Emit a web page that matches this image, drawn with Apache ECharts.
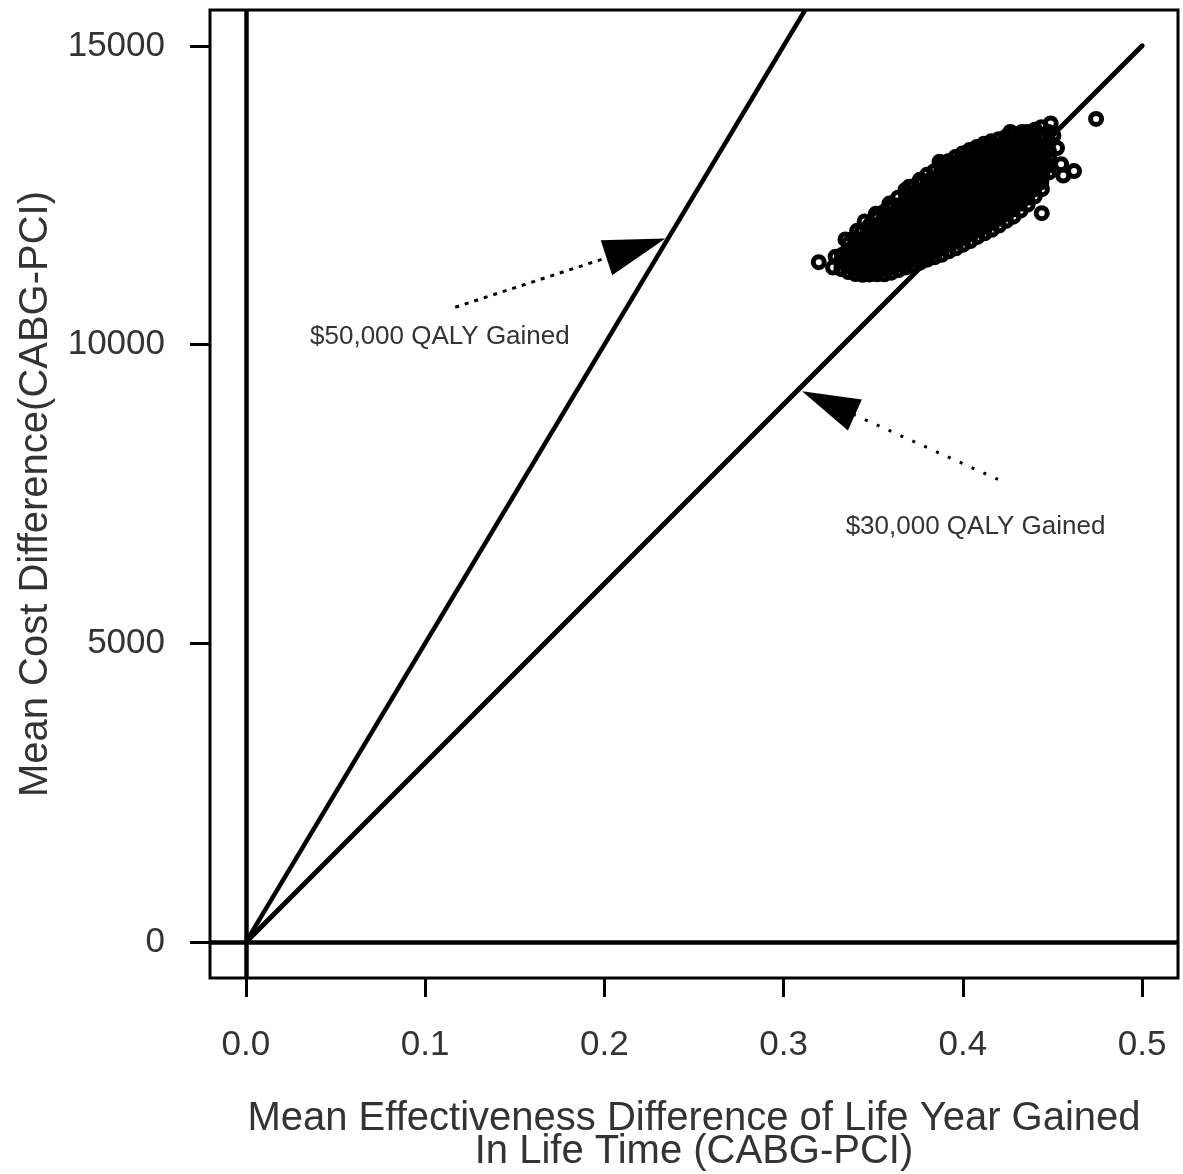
<!DOCTYPE html>
<html>
<head>
<meta charset="utf-8">
<title>ICER scatter</title>
<script src="https://cdn.jsdelivr.net/npm/echarts@6/dist/echarts.min.js"></script>
<style>
  html, body { margin: 0; padding: 0; background: #fff; }
  #chart { width: 1183px; height: 1174px; }
</style>
</head>
<body>
<div id="chart"></div>
<script>
// axis ticks
const xTicks = [0, 0.1, 0.2, 0.3, 0.4, 0.5]
const yTicks = [0, 5000, 10000, 15000]

// willingness-to-pay lines (effectiveness, cost)
const wtp30Line = [[0, 0], [0.5, 15000]]
const wtp50Line = [[0, 0], [0.312, 15600]]

// annotation arrows: [tail, head] and label anchors
const arrow50 = [[0.1168, 10626], [0.2176, 11615]]
const arrow30 = [[0.4196, 7743], [0.325, 9021]]
const label50 = [0.0358, 10123]
const label30 = [0.3346, 6955]

// bootstrap replicates (effectiveness diff, cost diff)
const icerPoints = [
  [0.3322, 11265], [0.3318, 11392], [0.3325, 11498],
  [0.3361, 11215], [0.3358, 11338], [0.3364, 11452], [0.3357, 11576], [0.3362, 11688],
  [0.3401, 11182], [0.3397, 11305], [0.3404, 11418], [0.3399, 11545], [0.3402, 11662], [0.3396, 11785],
  [0.3441, 11168], [0.3438, 11284], [0.3444, 11402], [0.3440, 11518], [0.3437, 11648], [0.3443, 11772], [0.3439, 11896],
  [0.3479, 11172], [0.3483, 11298], [0.3478, 11421], [0.3482, 11540], [0.3480, 11668], [0.3484, 11788], [0.3477, 11910], [0.3481, 12004],
  [0.3521, 11176], [0.3518, 11292], [0.3523, 11408], [0.3519, 11532], [0.3522, 11652], [0.3517, 11770], [0.3524, 11888], [0.3520, 12002], [0.3518, 12112],
  [0.3562, 11178], [0.3558, 11306], [0.3561, 11428], [0.3557, 11552], [0.3563, 11668], [0.3559, 11792], [0.3562, 11908], [0.3556, 12028], [0.3560, 12142], [0.3563, 12228],
  [0.3601, 11204], [0.3598, 11318], [0.3603, 11442], [0.3597, 11558], [0.3602, 11684], [0.3599, 11798], [0.3604, 11922], [0.3598, 12038], [0.3601, 12162], [0.3596, 12276], [0.3602, 12348],
  [0.3641, 11248], [0.3638, 11372], [0.3643, 11488], [0.3639, 11612], [0.3642, 11728], [0.3637, 11852], [0.3644, 11968], [0.3640, 12092], [0.3638, 12208], [0.3643, 12332], [0.3639, 12458],
  [0.3682, 11292], [0.3678, 11408], [0.3681, 11532], [0.3677, 11648], [0.3683, 11772], [0.3679, 11888], [0.3682, 12012], [0.3676, 12128], [0.3681, 12252], [0.3678, 12368], [0.3683, 12492], [0.3680, 12588],
  [0.3721, 11322], [0.3718, 11442], [0.3723, 11558], [0.3719, 11682], [0.3722, 11798], [0.3717, 11922], [0.3724, 12038], [0.3720, 12162], [0.3718, 12278], [0.3722, 12402], [0.3719, 12518], [0.3721, 12648],
  [0.3761, 11372], [0.3758, 11488], [0.3763, 11612], [0.3759, 11728], [0.3762, 11852], [0.3757, 11968], [0.3764, 12092], [0.3760, 12208], [0.3758, 12332], [0.3762, 12448], [0.3759, 12572], [0.3763, 12688], [0.3760, 12758],
  [0.3801, 11422], [0.3798, 11538], [0.3803, 11662], [0.3799, 11778], [0.3802, 11902], [0.3797, 12018], [0.3804, 12142], [0.3800, 12258], [0.3798, 12382], [0.3802, 12498], [0.3799, 12622], [0.3803, 12738], [0.3800, 12842],
  [0.3841, 11462], [0.3838, 11578], [0.3843, 11702], [0.3839, 11818], [0.3842, 11942], [0.3837, 12058], [0.3844, 12182], [0.3840, 12298], [0.3838, 12422], [0.3842, 12538], [0.3839, 12662], [0.3843, 12778], [0.3840, 12902],
  [0.3881, 11502], [0.3878, 11618], [0.3883, 11742], [0.3879, 11858], [0.3882, 11982], [0.3877, 12098], [0.3884, 12222], [0.3880, 12338], [0.3878, 12462], [0.3882, 12578], [0.3879, 12702], [0.3883, 12818], [0.3880, 12942], [0.3878, 13002],
  [0.3921, 11562], [0.3918, 11678], [0.3923, 11802], [0.3919, 11918], [0.3922, 12042], [0.3917, 12158], [0.3924, 12282], [0.3920, 12398], [0.3918, 12522], [0.3922, 12638], [0.3919, 12762], [0.3923, 12878], [0.3920, 12998], [0.3918, 13068],
  [0.3961, 11612], [0.3958, 11728], [0.3963, 11852], [0.3959, 11968], [0.3962, 12092], [0.3957, 12208], [0.3964, 12332], [0.3960, 12448], [0.3958, 12572], [0.3962, 12688], [0.3959, 12812], [0.3963, 12928], [0.3960, 13052], [0.3958, 13138],
  [0.4001, 11672], [0.3998, 11788], [0.4003, 11912], [0.3999, 12028], [0.4002, 12152], [0.3997, 12268], [0.4004, 12392], [0.4000, 12508], [0.3998, 12632], [0.4002, 12748], [0.3999, 12872], [0.4003, 12988], [0.4000, 13112], [0.3998, 13198],
  [0.4041, 11732], [0.4038, 11848], [0.4043, 11972], [0.4039, 12088], [0.4042, 12212], [0.4037, 12328], [0.4044, 12452], [0.4040, 12568], [0.4038, 12692], [0.4042, 12808], [0.4039, 12932], [0.4043, 13048], [0.4040, 13172], [0.4038, 13258],
  [0.4081, 11802], [0.4078, 11918], [0.4083, 12042], [0.4079, 12158], [0.4082, 12282], [0.4077, 12398], [0.4084, 12522], [0.4080, 12638], [0.4078, 12762], [0.4082, 12878], [0.4079, 13002], [0.4083, 13118], [0.4080, 13242], [0.4078, 13308],
  [0.4121, 11862], [0.4118, 11978], [0.4123, 12102], [0.4119, 12218], [0.4122, 12342], [0.4117, 12458], [0.4124, 12582], [0.4120, 12698], [0.4118, 12822], [0.4122, 12938], [0.4119, 13062], [0.4123, 13178], [0.4120, 13302], [0.4118, 13362],
  [0.4161, 11922], [0.4158, 12038], [0.4163, 12162], [0.4159, 12278], [0.4162, 12402], [0.4157, 12518], [0.4164, 12642], [0.4160, 12758], [0.4158, 12882], [0.4162, 12998], [0.4159, 13122], [0.4163, 13238], [0.4160, 13358], [0.4158, 13402],
  [0.4201, 11992], [0.4198, 12108], [0.4203, 12232], [0.4199, 12348], [0.4202, 12472], [0.4197, 12588], [0.4204, 12712], [0.4200, 12828], [0.4198, 12952], [0.4202, 13068], [0.4199, 13192], [0.4203, 13308], [0.4200, 13438],
  [0.4241, 12072], [0.4238, 12188], [0.4243, 12312], [0.4239, 12428], [0.4242, 12552], [0.4237, 12668], [0.4244, 12792], [0.4240, 12908], [0.4238, 13032], [0.4242, 13148], [0.4239, 13272], [0.4243, 13388], [0.4240, 13478],
  [0.4281, 12142], [0.4278, 12258], [0.4283, 12382], [0.4279, 12498], [0.4282, 12622], [0.4277, 12738], [0.4284, 12862], [0.4280, 12978], [0.4278, 13102], [0.4282, 13218], [0.4279, 13342], [0.4283, 13498],
  [0.4321, 12242], [0.4318, 12358], [0.4323, 12482], [0.4319, 12598], [0.4322, 12722], [0.4317, 12838], [0.4324, 12962], [0.4320, 13078], [0.4318, 13202], [0.4322, 13318], [0.4319, 13442], [0.4323, 13528],
  [0.4361, 12342], [0.4358, 12458], [0.4363, 12582], [0.4359, 12698], [0.4362, 12822], [0.4357, 12938], [0.4364, 13062], [0.4360, 13178], [0.4358, 13302], [0.4362, 13418], [0.4359, 13558],
  [0.4401, 12482], [0.4398, 12598], [0.4403, 12722], [0.4399, 12838], [0.4402, 12962], [0.4397, 13078], [0.4404, 13202], [0.4400, 13318], [0.4398, 13442], [0.4402, 13598],
  [0.4441, 12602], [0.4438, 12718], [0.4443, 12842], [0.4439, 12958], [0.4442, 13082], [0.4437, 13198], [0.4444, 13332], [0.4440, 13458], [0.4438, 13638],
  [0.4481, 12882], [0.4478, 12998], [0.4483, 13122], [0.4479, 13248], [0.4482, 13398], [0.4477, 13558],
  [0.3196, 11380], [0.3276, 11290], [0.3290, 11470], [0.3345, 11760], [0.3410, 11905],
  [0.3452, 12060], [0.3515, 12190], [0.3590, 12360], [0.3700, 12640], [0.3870, 13060],
  [0.4743, 13777], [0.4620, 12905], [0.4490, 13700], [0.4525, 13290], [0.4548, 13020],
  [0.4560, 12830], [0.4440, 12200], [0.4330, 13560], [0.4265, 13560], [0.4505, 13500]
]

const textColor = '#333'
const fontFamily = 'Liberation Sans, Arial, sans-serif'

const chart = echarts.init(document.getElementById('chart'))

chart.setOption({
  animation: false,
  backgroundColor: '#fff',
  grid: {
    left: 210,
    right: 5,
    top: 10,
    bottom: 196,
    containLabel: false,
    outerBoundsMode: 'none',
    show: true,
    borderColor: '#000',
    borderWidth: 3,
    backgroundColor: 'transparent'
  },
  xAxis: {
    type: 'value',
    min: -0.02,
    max: 0.52,
    name: 'Mean Effectiveness Difference of Life Year Gained\nIn Life Time (CABG-PCI)',
    nameLocation: 'middle',
    nameGap: 124,
    nameTextStyle: { fontSize: 40, color: textColor, fontFamily: fontFamily, lineHeight: 33 },
    splitLine: { show: false },
    axisLine: { show: false, onZero: false },
    axisTick: { show: true, length: 19, customValues: xTicks, lineStyle: { color: '#000', width: 3 } },
    axisLabel: {
      customValues: xTicks,
      margin: 50,
      fontSize: 35,
      color: textColor,
      fontFamily: fontFamily,
      formatter: v => v.toFixed(1)
    }
  },
  yAxis: {
    type: 'value',
    min: -600,
    max: 15600,
    name: 'Mean Cost Difference(CABG-PCI)',
    nameLocation: 'middle',
    nameGap: 154,
    nameTextStyle: { fontSize: 40, color: textColor, fontFamily: fontFamily },
    splitLine: { show: false },
    axisLine: { show: false, onZero: false },
    axisTick: { show: true, length: 20, customValues: yTicks, lineStyle: { color: '#000', width: 3 } },
    axisLabel: {
      customValues: yTicks,
      margin: 45,
      fontSize: 35,
      color: textColor,
      fontFamily: fontFamily,
      formatter: v => String(v)
    }
  },
  series: [
    {
      name: '$30,000 QALY Gained',
      type: 'line',
      data: wtp30Line,
      symbol: 'none',
      lineStyle: { color: '#000', width: 5, cap: 'round' },
      z: 2,
      markLine: {
        silent: true,
        symbol: 'none',
        label: { show: false },
        lineStyle: { color: '#000', width: 4.5, type: 'solid' },
        data: [
          [{ coord: [0, -600] }, { coord: [0, 15600] }],
          [{ coord: [-0.02, 0] }, { coord: [0.52, 0] }]
        ]
      }
    },
    {
      name: '$50,000 QALY Gained',
      type: 'line',
      data: wtp50Line,
      symbol: 'none',
      lineStyle: { color: '#000', width: 4.5 },
      z: 2
    },
    {
      name: 'arrows',
      type: 'line',
      data: [],
      z: 3,
      markLine: {
        silent: true,
        label: { show: false },
        itemStyle: { color: '#000' },
        data: [
          [
            { coord: arrow50[0], symbol: 'none', lineStyle: { color: '#000', width: 3, type: [4, 6] } },
            { coord: arrow50[1], symbol: 'triangle', symbolSize: [37, 62] }
          ],
          [
            { coord: arrow30[0], symbol: 'none', lineStyle: { color: '#000', width: 3, type: [3, 10] } },
            { coord: arrow30[1], symbol: 'triangle', symbolSize: [34, 58] }
          ]
        ]
      },
      markPoint: {
        silent: true,
        symbol: 'rect',
        symbolSize: 0,
        label: {
          show: true,
          position: 'right',
          distance: 0,
          fontSize: 26,
          color: textColor,
          fontFamily: fontFamily
        },
        data: [
          { coord: label50, value: '$50,000 QALY Gained', label: { formatter: '$50,000 QALY Gained' } },
          { coord: label30, value: '$30,000 QALY Gained', label: { formatter: '$30,000 QALY Gained' } }
        ]
      }
    },
    {
      name: 'ICER',
      type: 'scatter',
      data: icerPoints,
      symbol: 'circle',
      symbolSize: 11,
      itemStyle: { color: 'rgba(0,0,0,0)', borderColor: '#000', borderWidth: 5, opacity: 1 },
      z: 4
    }
  ]
})
</script>
</body>
</html>
